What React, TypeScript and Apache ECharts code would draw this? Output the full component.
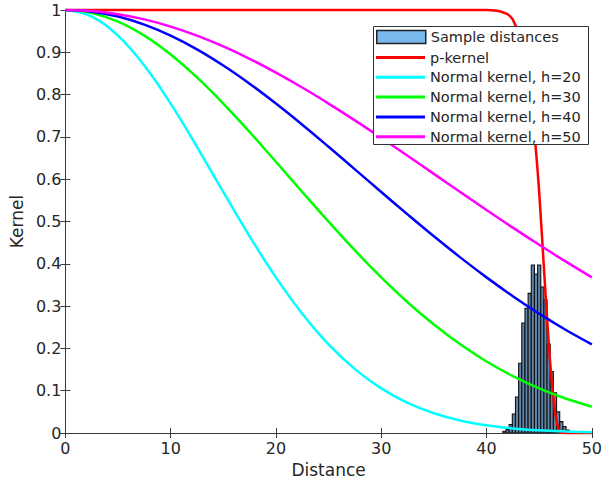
import React, { useEffect, useRef } from "react";
import * as echarts from "echarts";

// Distances at which the kernel curves are sampled
const distances = [0, 2.5, 5, 7.5, 10, 12.5, 15, 17.5, 20, 22.5, 25, 27.5, 30, 32.5, 35, 37.5, 40, 42.5, 45, 47.5, 50];
const normalH20 = [1, 0.9845, 0.9394, 0.8688, 0.7788, 0.6766, 0.5698, 0.465, 0.3679, 0.2821, 0.2096, 0.151, 0.1054, 0.0713, 0.0468, 0.0297, 0.0183, 0.0109, 0.0063, 0.0036, 0.0019];
const normalH30 = [1, 0.9931, 0.9726, 0.9394, 0.8948, 0.8406, 0.7788, 0.7116, 0.6412, 0.5698, 0.4994, 0.4316, 0.3679, 0.3092, 0.2564, 0.2096, 0.169, 0.1344, 0.1054, 0.0815, 0.0622];
const normalH40 = [1, 0.9961, 0.9845, 0.9655, 0.9394, 0.907, 0.8688, 0.8258, 0.7788, 0.7288, 0.6766, 0.6233, 0.5698, 0.5168, 0.465, 0.4152, 0.3679, 0.3234, 0.2821, 0.2441, 0.2096];
const normalH50 = [1, 0.9975, 0.99, 0.9778, 0.9608, 0.9394, 0.9139, 0.8847, 0.8521, 0.8167, 0.7788, 0.739, 0.6977, 0.6554, 0.6126, 0.5698, 0.5273, 0.4855, 0.4449, 0.4056, 0.3679];

// p-kernel
const pDist = [0, 40, 41, 41.5, 42, 42.5, 43, 43.5, 44, 44.5, 45, 45.5, 46, 46.5, 46.8, 47, 47.5, 50];
const pVal = [1, 1, 0.998, 0.995, 0.99, 0.977, 0.945, 0.89, 0.82, 0.72, 0.57, 0.37, 0.18, 0.05, 0.012, 0.002, 0, 0];

// Histogram of sample distances
const binCenters = [41.7, 42.0, 42.3, 42.6, 42.9, 43.2, 43.5, 43.8, 44.1, 44.4, 44.7, 45.0, 45.3, 45.6, 45.9, 46.2, 46.5, 46.8, 47.1, 47.4, 47.7];
const binHeights = [0.004, 0.008, 0.02, 0.045, 0.085, 0.165, 0.26, 0.295, 0.33, 0.397, 0.376, 0.397, 0.345, 0.315, 0.21, 0.145, 0.095, 0.05, 0.027, 0.015, 0.007];
const binWidth = 0.3;

const lineNames = ["p-kernel", "Normal kernel, h=20", "Normal kernel, h=30", "Normal kernel, h=40", "Normal kernel, h=50"];
const histName = "Sample distances";

const xTicks = { min: 0, max: 50, interval: 10 };
const yTicks = { min: 0, max: 1, interval: 0.1 };

const FONT = "DejaVu Sans";
const AXIS_COLOR = "#3a3a3a";
const TEXT_COLOR = "#262626";

export default function App() {
  const ref = useRef<HTMLDivElement>(null);
  useEffect(() => {
    if (!ref.current) return;
    const chart = echarts.init(ref.current, undefined, { renderer: "svg" });
    const histData = binCenters.map((c, i) => [c - binWidth / 2, c + binWidth / 2, binHeights[i]]);
    const lineSeries = (name: string, vals: number[], color: string) => ({
      name,
      type: "line",
      data: distances.map((d, i) => [d, vals[i]]),
      symbol: "none",
      smooth: 0.4,
      lineStyle: { color, width: 2.5 },
      itemStyle: { color },
      clip: true,
    });
    const axisCommon = {
      axisLine: { show: true, lineStyle: { color: AXIS_COLOR, width: 1 } },
      axisTick: { show: true, inside: true, length: 5, lineStyle: { color: AXIS_COLOR, width: 1 } },
      splitLine: { show: false },
    };
    const legendText = { fontSize: 14.5, color: TEXT_COLOR, fontFamily: FONT };
    chart.setOption({
      animation: false,
      backgroundColor: "#ffffff",
      textStyle: { fontFamily: FONT },
      grid: { left: 64, top: 10, right: 7, bottom: 52, containLabel: false },
      xAxis: [
        {
          type: "value",
          ...xTicks,
          position: "bottom",
          ...axisCommon,
          axisLabel: { color: TEXT_COLOR, fontSize: 16, margin: 7, fontFamily: FONT },
          name: "Distance",
          nameLocation: "middle",
          nameGap: 28,
          nameTextStyle: { color: TEXT_COLOR, fontSize: 17, fontFamily: FONT },
        },
        {
          type: "value",
          ...xTicks,
          position: "top",
          ...axisCommon,
          axisLabel: { show: false },
        },
      ],
      yAxis: [
        {
          type: "value",
          ...yTicks,
          position: "left",
          ...axisCommon,
          axisLabel: { color: TEXT_COLOR, fontSize: 16, margin: 4, fontFamily: FONT },
          name: "Kernel",
          nameLocation: "middle",
          nameGap: 37,
          nameTextStyle: { color: TEXT_COLOR, fontSize: 17, fontFamily: FONT },
        },
        {
          type: "value",
          ...yTicks,
          position: "right",
          ...axisCommon,
          axisLabel: { show: false },
        },
      ],
      graphic: [
        {
          type: "rect",
          left: 373,
          top: 26,
          z: 10,
          shape: { width: 215, height: 118 },
          style: { fill: "#ffffff", stroke: "#333333", lineWidth: 1 },
        },
      ],
      legend: [
        {
          orient: "vertical",
          left: 376,
          top: 29.5,
          z: 20,
          padding: 0,
          itemWidth: 49,
          itemHeight: 13,
          itemTextGap: 5,
          textStyle: legendText,
          data: [{ name: histName, icon: "rect", itemStyle: { color: "#78b8ec", borderColor: "#222222", borderWidth: 1.5 } }],
        },
        {
          orient: "vertical",
          left: 376,
          top: 50,
          z: 20,
          padding: 0,
          itemGap: 4.8,
          itemWidth: 49,
          itemHeight: 3,
          itemTextGap: 5,
          textStyle: legendText,
          data: lineNames.map((n) => ({ name: n, icon: "rect" })),
        },
      ],
      series: [
        {
          name: histName,
          type: "custom",
          clip: true,
          itemStyle: { color: "#78b8ec", borderColor: "#000000", borderWidth: 1 },
          encode: { x: [0, 1], y: 2 },
          data: histData,
          renderItem: (params: any, api: any) => {
            const s = api.coord([api.value(0), 0]);
            const e = api.coord([api.value(1), api.value(2)]);
            return {
              type: "rect",
              shape: { x: s[0], y: e[1], width: e[0] - s[0], height: s[1] - e[1] },
              style: { fill: "#5f86aa", stroke: "#111111", lineWidth: 1.1 },
            };
          },
        },
        {
          name: lineNames[0],
          type: "line",
          data: pDist.map((d, i) => [d, pVal[i]]),
          symbol: "none",
          smooth: 0.25,
          lineStyle: { color: "#ff0000", width: 2.5 },
          itemStyle: { color: "#ff0000" },
          clip: false,
        },
        lineSeries(lineNames[1], normalH20, "#00ffff"),
        lineSeries(lineNames[2], normalH30, "#00ff00"),
        lineSeries(lineNames[3], normalH40, "#0000ff"),
        lineSeries(lineNames[4], normalH50, "#ff00ff"),
      ],
    });
    return () => chart.dispose();
  }, []);
  return <div ref={ref} style={{ position: "fixed", left: 0, top: 0, width: 605, height: 485 }} />;
}
